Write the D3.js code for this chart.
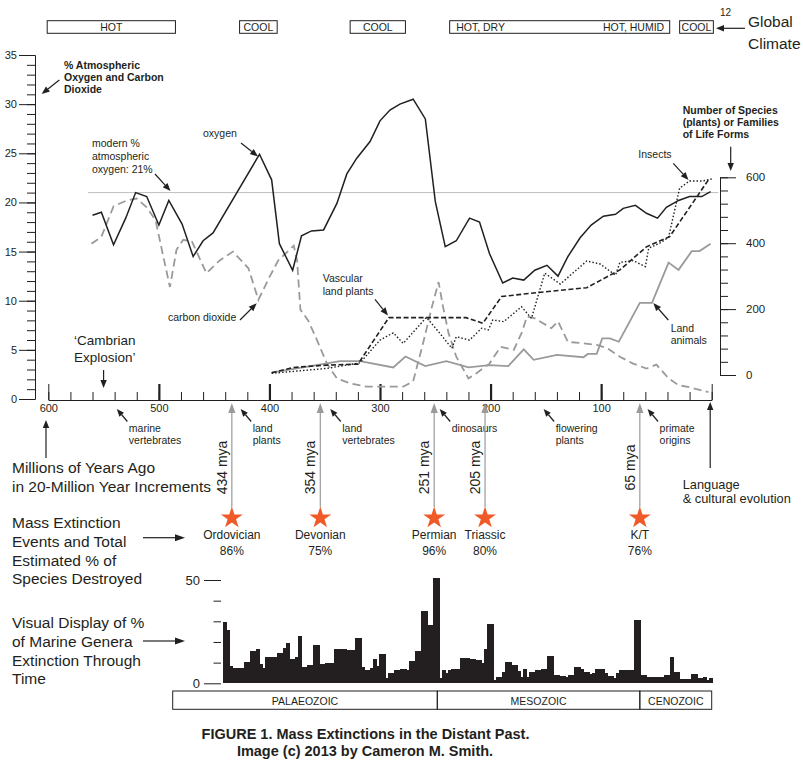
<!DOCTYPE html>
<html>
<head>
<meta charset="utf-8">
<script src="https://cdnjs.cloudflare.com/ajax/libs/d3/7.8.5/d3.min.js"></script>
<style>
body{margin:0;background:#fff;}
svg{display:block;font-family:"Liberation Sans",Arial,sans-serif;}
text{fill:#231f20;}
</style>
</head>
<body>
<svg id="chart" width="803" height="776"></svg>
<script>
var ink = '#231f20', grey = '#9a9a9a';

// global climate bands (millions of years ago)
var climateFrom = [601, 427, 327, 237, 29];
var climateTo = [485, 393, 277, 38, -1.5];
var climateText = [["HOT"], ["COOL"], ["COOL"], ["HOT, DRY", "HOT, HUMID"], ["COOL"]];

// % atmospheric oxygen
var o2Mya = [560,552,541,530,521,511,500,491,479,469,460,451,409,398,391,379,371,362,351,339,330,321,309,300,291,282,270,259,250,241,231,219,210,201,189,180,170,160,149,139,130,119,109,98,87,80,69,59,49,41,30,20,9,1];
var o2Pct = [18.7,19.0,15.7,18.4,21.0,20.6,17.7,20.2,17.8,14.5,16.1,16.9,24.9,22.3,15.8,13.1,16.6,17.1,17.2,19.9,22.9,24.5,26.2,28.3,29.4,30.0,30.5,28.5,20.1,15.5,16.1,18.4,18.0,14.8,11.8,12.3,12.1,13.1,13.6,12.5,14.5,16.4,17.7,18.6,18.8,19.4,19.7,18.9,18.4,19.5,20.2,20.6,20.6,21.1];

// carbon dioxide (same left scale)
var co2Mya = [561,552,541,529,520,511,503,496,490,484,478,470,457,445,433,419,410,400,392,378,375,372,365,357,348,339,327,312,279,270,261,253,247,243,238,231,220,213,201,191,179,172,167,160,145,139,130,118,104,95,83,71,59,50,39,30,20,3];
var co2Pct = [15.8,16.5,19.6,20.2,20.4,19.5,18.2,14.5,11.4,15.2,16.2,16.0,12.8,14.1,15.0,13.3,10.1,12.4,14.1,15.6,14.1,9.1,8.0,6.0,3.6,2.1,1.6,1.25,1.25,1.8,5.7,9.4,11.9,9.4,6.7,4.3,2.1,2.6,3.6,5.3,5.0,6.7,8.4,8.2,7.2,7.9,5.8,5.7,5.5,5.2,4.3,3.6,3.1,3.5,2.1,1.4,1.2,0.7];

var modernO2 = 21;

// number of species / families (right scale)
var plantMya = [398,378,348,320,292,258,222,207,190,164,113,83,59,38,2];
var plantN = [7,23,30,33,174,174,174,157,238,248,265,319,389,420,597];

var insectMya = [398,348,318,300,288,279,258,246,235,231,219,208,202,198,188,172,163,151,137,113,101,87,83,71,60,57,47,39,29,20,8,0];
var insectN = [5,20,37,106,128,96,175,127,81,116,106,142,137,167,162,207,172,309,276,346,337,303,342,347,329,385,400,418,567,589,589,595];

var animalMya = [398,336,318,288,277,259,240,220,201,184,170,161,140,116,112,104,99,92,84,65,54,39,30,18,11,1];
var animalN = [7,42,42,23,56,27,42,23,30,27,78,46,61,54,64,64,111,111,101,219,219,341,319,376,376,398];

// first appearances
var milestoneText = [["marine","vertebrates"],["land","plants"],["land","vertebrates"],["dinosaurs"],["flowering","plants"],["primate","origins"]];
var milestoneMya = [538,426,345,246,152,58];

// mass extinctions
var extinctName = ["Ordovician","Devonian","Permian","Triassic","K/T"];
var extinctMya = [434,354,251,205,65];
var extinctPct = [86,75,96,80,76];

// % marine genera extinction, equal-width bins, oldest first
var barPct = [29.5,25.8,8.4,7.3,7.3,7.3,7.3,10.3,10.3,15.6,15.6,16.5,9.2,7.3,12.9,12.9,12.9,12.9,14.5,14.5,
  17,19.4,11.6,11.6,12.6,22.9,7.7,7.7,8.9,8.9,18.5,18.5,9.4,9.4,10,10,10,16.6,16.6,16.6,
  16.6,16.1,16.1,16.1,21.8,21.8,7.7,6.5,6.5,7.3,11.6,8.4,14.2,14.2,2.7,4.8,4.8,6.5,6.5,6.9,
  6.9,6.5,11,11,15.6,15.6,35,35,28.2,28.2,50.8,50.8,2.4,6.5,4.8,
  6.5,6.8,6.8,6.8,12.4,12.4,12.4,11.8,11.8,11.3,11.3,10,16.6,28.7,28.7,1.6,3.2,3.2,5.6,10.3,
  10.3,8.9,8.9,6,3.2,6.8,3.2,5.6,5.6,6.5,6.5,6.8,6.8,13.2,13.2,4,4,3.5,3.5,2.9,
  4,4,7.7,7.7,6.8,5.6,5.6,4.5,4.8,6.8,6.8,6.8,4.8,3.5,3.5,2.4,5.2,6.5,6.5,6.5,
  6.5,6.5,30.6,30.6,4,4,3.2,3.2,3.2,3.2,3.2,3.2,4,4,12.6,5.3,5.3,1.9,1.9,1.9,
  1.9,4.4,4.4,2.4,2.4,3.2,1.6,2.4];

var eraName = ["PALAEOZOIC","MESOZOIC","CENOZOIC"];
var eraFrom = [495,252,66];
var eraTo = [252,66,0];

var svg = d3.select('#chart');

var x = d3.scaleLinear().domain([600, 0]).range([48.3, 711.7]);
var yPct = d3.scaleLinear().domain([0, 35]).range([399, 55]);
var ySp = d3.scaleLinear().domain([0, 600]).range([375, 177.3]);
var xEra = d3.scaleLinear().domain([495, 0]).range([172.7, 711.7]);
var xBar = d3.scaleBand().domain(d3.range(barPct.length)).range([223.3, 711.7]).padding(0);
var yBar = d3.scaleLinear().domain([0, 50]).range([683.3, 580]);

function pairs(a, b){ return a.map(function(v, i){ return [v, b[i]]; }); }

function arrow(x1, y1, x2, y2, color, len, half){
  color = color || ink; len = len || 8; half = half || 3.2;
  var dx = x2 - x1, dy = y2 - y1, d = Math.sqrt(dx*dx + dy*dy), ux = dx/d, uy = dy/d;
  var bx = x2 - ux*len, by = y2 - uy*len;
  svg.append('line').attr('x1', x1).attr('y1', y1).attr('x2', bx).attr('y2', by)
    .attr('stroke', color).attr('stroke-width', 1.2);
  svg.append('path')
    .attr('d', 'M' + x2 + ',' + y2 + 'L' + (bx - uy*half) + ',' + (by + ux*half) + 'L' + (bx + uy*half) + ',' + (by - ux*half) + 'Z')
    .attr('fill', color);
}

function label(xp, yp, lines, size, weight, anchor, lh){
  var t = svg.append('text').attr('x', xp).attr('y', yp)
    .attr('font-size', size).attr('font-weight', weight || 'normal')
    .attr('text-anchor', anchor || 'start');
  lines.forEach(function(s, i){
    t.append('tspan').attr('x', xp).attr('dy', i ? (lh || size*1.17) : 0).text(s);
  });
  return t;
}

function styleAxis(g, size){
  g.attr('font-family', '"Liberation Sans",Arial,sans-serif').attr('font-size', size).attr('color', ink);
}

// ---- climate bands ----
climateText.forEach(function(lbls, i){
  var x0 = x(climateFrom[i]), x1 = x(climateTo[i]);
  svg.append('rect').attr('x', x0).attr('y', 20.7).attr('width', x1 - x0).attr('height', 12.6)
    .attr('fill', 'none').attr('stroke', ink).attr('stroke-width', 1);
  if (lbls.length == 1) {
    label((x0 + x1)/2, 31, lbls, 10.5, 'normal', 'middle');
  } else {
    label(x0 + 6.5, 31, [lbls[0]], 10.5, 'normal', 'start');
    label(x1 - 5.5, 31, [lbls[1]], 10.5, 'normal', 'end');
  }
});
label(720, 16, ["12"], 10);
arrow(745, 28.3, 716, 28.3);
label(748, 27, ["Global", "Climate"], 15.5, 'normal', 'start', 22);

// ---- left axis ----
var gL1 = svg.append('g').attr('transform', 'translate(35,0)')
  .call(d3.axisLeft(yPct).tickValues(d3.range(0, 36)).tickSize(8).tickFormat('').tickSizeOuter(0));
var gL2 = svg.append('g').attr('transform', 'translate(35,0)')
  .call(d3.axisLeft(yPct).tickValues(d3.range(0, 36, 5)).tickSize(16).tickPadding(2).tickSizeOuter(0));
styleAxis(gL1, 11); styleAxis(gL2, 11);

// ---- right axis ----
var gR1 = svg.append('g').attr('transform', 'translate(720,0)')
  .call(d3.axisRight(ySp).tickValues(d3.range(0, 601, 40)).tickSize(8).tickFormat('').tickSizeOuter(0));
var gR2 = svg.append('g').attr('transform', 'translate(720,0)')
  .call(d3.axisRight(ySp).tickValues([0, 200, 400, 600]).tickSize(16).tickPadding(10).tickSizeOuter(0));
styleAxis(gR1, 11); styleAxis(gR2, 11.5);

// ---- bottom time axis ----
var gX1 = svg.append('g').attr('transform', 'translate(0,400)')
  .call(d3.axisBottom(x).tickValues(d3.range(0, 601, 20)).tickSize(-8).tickFormat('').tickSizeOuter(0));
var gX2 = svg.append('g').attr('transform', 'translate(0,400)')
  .call(d3.axisBottom(x).tickValues([600, 500, 400, 300, 200, 100, 0]).tickSize(-16).tickPadding(4).tickSizeOuter(0)
    .tickFormat(function(d){ return d ? d : ''; }));
styleAxis(gX1, 11); styleAxis(gX2, 11);
gX2.selectAll('.tick line').attr('stroke-width', function(d){ return (d == 600 || d == 0) ? 1 : 2.2; });

// ---- reference line ----
svg.append('line').attr('x1', x(564)).attr('x2', x(-6)).attr('y1', yPct(modernO2)).attr('y2', yPct(modernO2))
  .attr('stroke', '#bdbdbd').attr('stroke-width', 1);

// ---- curves ----
var linePct = d3.line().x(function(d){ return x(d[0]); }).y(function(d){ return yPct(d[1]); });
var lineSp = d3.line().x(function(d){ return x(d[0]); }).y(function(d){ return ySp(d[1]); });

svg.append('path').datum(pairs(co2Mya, co2Pct)).attr('d', linePct)
  .attr('fill', 'none').attr('stroke', grey).attr('stroke-width', 1.8).attr('stroke-dasharray', '8,4.5');
svg.append('path').datum(pairs(animalMya, animalN)).attr('d', lineSp)
  .attr('fill', 'none').attr('stroke', grey).attr('stroke-width', 1.8);
svg.append('path').datum(pairs(plantMya, plantN)).attr('d', lineSp)
  .attr('fill', 'none').attr('stroke', ink).attr('stroke-width', 1.6).attr('stroke-dasharray', '5,2.5');
svg.append('path').datum(pairs(insectMya, insectN)).attr('d', lineSp)
  .attr('fill', 'none').attr('stroke', ink).attr('stroke-width', 1.4).attr('stroke-dasharray', '1.5,2');
svg.append('path').datum(pairs(o2Mya, o2Pct)).attr('d', linePct)
  .attr('fill', 'none').attr('stroke', ink).attr('stroke-width', 1.5).attr('stroke-linejoin', 'miter');

// ---- chart annotations ----
label(64, 69, ["% Atmospheric", "Oxygen and Carbon", "Dioxide"], 10.5, 'bold', 'start', 12.2);
arrow(59.3, 80, 41.7, 94);
label(92, 147, ["modern %", "atmospheric", "oxygen: 21%"], 10.5, 'normal', 'start', 12.8);
arrow(155, 174, 170.5, 191);
label(203, 137, ["oxygen"], 10.5);
arrow(241, 143, 258, 156.5);
label(168, 320.5, ["carbon dioxide"], 10.5);
arrow(240, 320, 256.7, 303.3);
label(74, 345, ["\u2018Cambrian", "Explosion\u2019"], 13.5, 'normal', 'start', 16.5);
arrow(x(550), 370, x(550), 388);
label(322.7, 282, ["Vascular", "land plants"], 10.5, 'normal', 'start', 12.5);
arrow(375, 299.3, 388, 315.5);
label(638.3, 158.3, ["Insects"], 10.5);
arrow(673.3, 163.3, 688.5, 180);
label(670.7, 332.3, ["Land", "animals"], 10.5, 'normal', 'start', 12);
arrow(668.3, 320, 653.3, 303);
label(682.7, 114, ["Number of Species", "(plants) or Families", "of Life Forms"], 10.5, 'bold', 'start', 12.2);
arrow(730.7, 146.7, 730.7, 171);

// ---- first appearances below axis ----
milestoneMya.forEach(function(m, i){
  var tx = x(m);
  arrow(tx + 10.5, 421.5, tx, 409, ink, 7.5, 3);
  label(tx + 12, 432.3, milestoneText[i], 10.5, 'normal', 'start', 12);
});
arrow(x(0) - 1.5, 468, x(0) - 1.5, 402);
label(682.7, 488.5, ["Language", "& cultural evolution"], 12.8, 'normal', 'start', 14);

label(12, 473.3, ["Millions of Years Ago", "in 20-Million Year Increments"], 15.5, 'normal', 'start', 18.4);
arrow(46, 458, 46, 420);

// ---- mass extinctions ----
label(12, 528.3, ["Mass Extinction", "Events and Total", "Estimated % of", "Species Destroyed"], 15.5, 'normal', 'start', 18.7);
arrow(143, 537.7, 185, 537.7, ink, 10, 3.5);

var star = d3.symbol().type(d3.symbolStar).size(150);
extinctMya.forEach(function(m, i){
  var ex = x(m);
  arrow(ex, 507, ex, 403, grey, 10, 3.6);
  svg.append('text').attr('transform', 'translate(' + (ex - 5) + ',467.5) rotate(-90)')
    .attr('text-anchor', 'middle').attr('font-size', 14).text(m + ' mya');
  svg.append('path').attr('d', star).attr('transform', 'translate(' + ex + ',518)').attr('fill', '#f05a28');
  label(ex, 539.3, [extinctName[i]], 12, 'normal', 'middle');
  label(ex, 555, [extinctPct[i] + '%'], 12, 'normal', 'middle');
});

// ---- marine genera extinction bars ----
label(12, 628.3, ["Visual Display of %", "of Marine Genera", "Extinction Through", "Time"], 15.5, 'normal', 'start', 18.7);
arrow(143, 641, 185, 641, ink, 10, 3.5);

svg.append('g').attr('shape-rendering', 'crispEdges')
  .selectAll('rect').data(barPct).enter().append('rect')
  .attr('x', function(d, i){ return xBar(i); })
  .attr('width', xBar.bandwidth() + 1)
  .attr('y', function(d){ return yBar(d); })
  .attr('height', function(d){ return yBar(0) - yBar(d); })
  .attr('fill', ink);

var gB1 = svg.append('g').attr('transform', 'translate(221,0)')
  .call(d3.axisLeft(yBar).tickValues([10, 20, 30, 40]).tickSize(7.5).tickFormat(''));
var gB2 = svg.append('g').attr('transform', 'translate(221,0)')
  .call(d3.axisLeft(yBar).tickValues([0, 50]).tickSize(17).tickPadding(4));
styleAxis(gB1, 13); styleAxis(gB2, 13);
gB1.select('.domain').remove(); gB2.select('.domain').remove();

// ---- eras ----
eraName.forEach(function(n, i){
  var x0 = xEra(eraFrom[i]), x1 = xEra(eraTo[i]);
  svg.append('rect').attr('x', x0).attr('y', 691).attr('width', x1 - x0).attr('height', 18.3)
    .attr('fill', 'none').attr('stroke', ink).attr('stroke-width', 1);
  label((x0 + x1)/2, 704.5, [n], 10.5, 'normal', 'middle');
});

// ---- caption ----
label(365.5, 739, ["FIGURE 1. Mass Extinctions in the Distant Past."], 14.5, 'bold', 'middle');
label(365, 755.5, ["Image (c) 2013 by Cameron M. Smith."], 14.5, 'bold', 'middle');
</script>
</body>
</html>
